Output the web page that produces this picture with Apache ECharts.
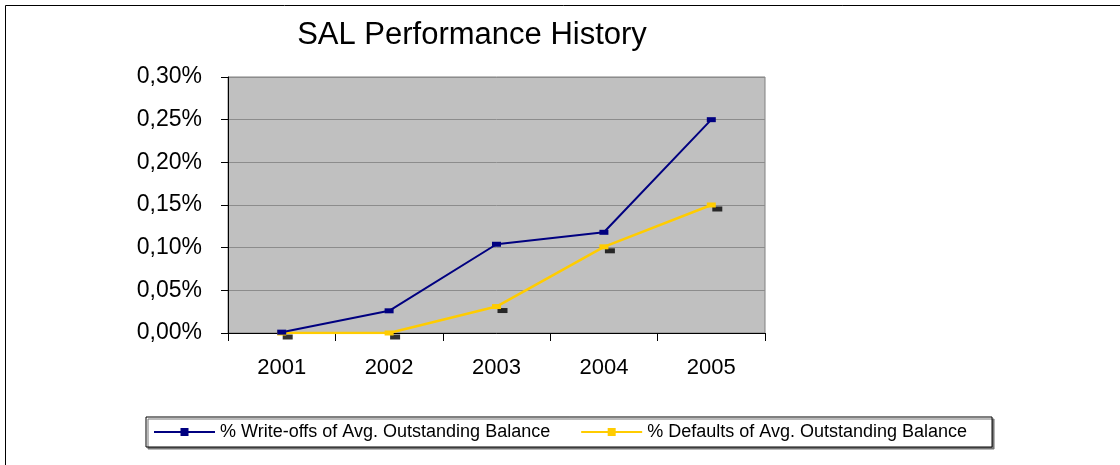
<!DOCTYPE html>
<html>
<head>
<meta charset="utf-8">
<script src="https://cdn.jsdelivr.net/npm/echarts@6/dist/echarts.min.js"></script>
<style>
  html, body { margin: 0; padding: 0; background: #fff; }
  #chart { width: 1120px; height: 465px; }
</style>
</head>
<body>
<div id="chart"></div>
<script>
// years on the x axis
var years = ['2001', '2002', '2003', '2004', '2005'];
// values in percent
var writeOffs = [0.001, 0.026, 0.104, 0.118, 0.250];
var defaults = [0.000, 0.000, 0.031, 0.101, 0.150];
var seriesNames = ['% Write-offs of Avg. Outstanding Balance', '% Defaults of Avg. Outstanding Balance'];

var chart = echarts.init(document.getElementById('chart'));

function pct(v) {
  return v.toFixed(2).replace('.', ',') + '%';
}

var option = {
  animation: false,
  textStyle: { fontFamily: 'Liberation Sans, Arial, sans-serif' },
  graphic: [{
    type: 'rect',
    shape: { x: 5.5, y: 5.5, width: 1200, height: 600 },
    style: { fill: 'none', stroke: '#000', lineWidth: 1 },
    silent: true
  }],
  title: {
    text: 'SAL Performance History',
    left: 467,
    textAlign: 'center',
    top: 15,
    textStyle: { fontSize: 31, fontWeight: 'normal', color: '#000', fontFamily: 'Liberation Sans, Arial, sans-serif' }
  },
  legend: {
    data: seriesNames,
    left: 146,
    top: 417,
    orient: 'horizontal',
    itemWidth: 61,
    itemHeight: 10,
    itemGap: 30,
    padding: [6, 25, 6, 7],
    borderColor: '#000',
    borderWidth: 1,
    backgroundColor: '#fff',
    shadowColor: '#777',
    shadowOffsetX: 2,
    shadowOffsetY: 2,
    shadowBlur: 0,
    textStyle: { fontSize: 18, color: '#000', fontFamily: 'Liberation Sans, Arial, sans-serif' }
  },
  grid: {
    left: 228,
    top: 77,
    width: 537,
    height: 256,
    show: true,
    backgroundColor: '#C0C0C0',
    borderColor: '#808080',
    borderWidth: 1
  },
  xAxis: {
    type: 'category',
    data: years,
    boundaryGap: true,
    axisLine: { lineStyle: { color: '#000', width: 1 } },
    axisTick: { show: true, length: 8, inside: false, lineStyle: { color: '#000' } },
    axisLabel: { fontSize: 22, color: '#000', margin: 24 },
    splitLine: { show: false }
  },
  yAxis: {
    type: 'value',
    min: 0,
    max: 0.30,
    interval: 0.05,
    axisLine: { show: true, lineStyle: { color: '#000', width: 1 } },
    axisTick: { show: true, length: 7, lineStyle: { color: '#000' } },
    axisLabel: { fontSize: 23, color: '#000', margin: 26, formatter: pct },
    splitLine: { show: true, lineStyle: { color: '#8c8c8c', width: 1 } }
  },
  series: [
    {
      name: 'marks',
      type: 'scatter',
      data: defaults,
      symbol: 'rect',
      symbolSize: [10, 5],
      symbolOffset: [6, 4],
      itemStyle: { color: '#000' },
      z: 1,
      silent: true
    },
    {
      name: seriesNames[0],
      type: 'line',
      data: writeOffs,
      symbol: 'rect',
      symbolSize: [9, 5],
      lineStyle: { color: '#000080', width: 2 },
      itemStyle: { color: '#000080' },
      z: 3
    },
    {
      name: seriesNames[1],
      type: 'line',
      data: defaults,
      symbol: 'rect',
      symbolSize: [9, 5],
      lineStyle: { color: '#FFCC00', width: 2.5 },
      itemStyle: { color: '#FFCC00' },
      z: 2
    }
  ]
};

option && chart.setOption(option);
</script>
</body>
</html>
